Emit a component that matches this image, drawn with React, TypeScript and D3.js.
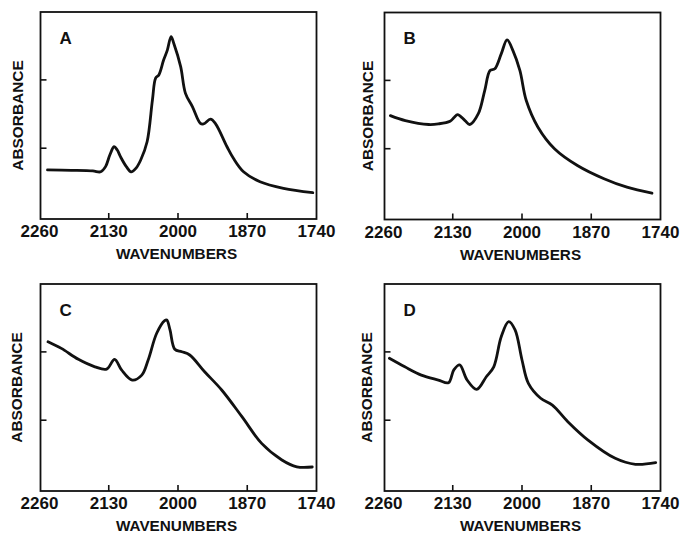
import React from 'react';
import * as d3 from 'd3';

// ---- data ----
const xTickLabels = [2260, 2130, 2000, 1870, 1740];
const xInnerTicks = [2130, 2000, 1870];
const yTickValues = [0.342, 0.672];
const panelLetters = ['A', 'B', 'C', 'D'];

const aWavenumber = [2245, 2200, 2160, 2145, 2136, 2128, 2120, 2114, 2108, 2097, 2088, 2079, 2070, 2058, 2048, 2042, 2036, 2027, 2020, 2013, 2008, 1995, 1986, 1973, 1958, 1952, 1939, 1930, 1908, 1896, 1877, 1846, 1802, 1747];
const aAbsorbance = [0.237, 0.235, 0.232, 0.228, 0.253, 0.309, 0.349, 0.333, 0.301, 0.253, 0.228, 0.245, 0.285, 0.373, 0.575, 0.68, 0.696, 0.768, 0.816, 0.881, 0.849, 0.736, 0.607, 0.543, 0.462, 0.459, 0.482, 0.462, 0.349, 0.293, 0.228, 0.18, 0.148, 0.127];

const bWavenumber = [2247, 2219, 2175, 2157, 2135, 2127, 2121, 2107, 2098, 2082, 2070, 2060, 2051, 2039, 2028, 2017, 2004, 1992, 1970, 1939, 1896, 1846, 1803, 1756];
const bAbsorbance = [0.502, 0.478, 0.459, 0.462, 0.475, 0.494, 0.507, 0.478, 0.459, 0.511, 0.623, 0.72, 0.728, 0.8, 0.868, 0.816, 0.72, 0.575, 0.446, 0.342, 0.261, 0.197, 0.156, 0.127];

const cWavenumber = [2244, 2219, 2187, 2156, 2134, 2119, 2106, 2086, 2068, 2056, 2040, 2025, 2021, 2015, 2006, 1993, 1978, 1950, 1918, 1880, 1843, 1805, 1777, 1748];
const cAbsorbance = [0.721, 0.689, 0.636, 0.6, 0.589, 0.636, 0.585, 0.536, 0.56, 0.633, 0.762, 0.823, 0.826, 0.778, 0.685, 0.673, 0.657, 0.576, 0.488, 0.359, 0.23, 0.15, 0.117, 0.116];

const dWavenumber = [2249, 2220, 2189, 2157, 2138, 2128, 2117, 2103, 2085, 2067, 2053, 2039, 2025, 2013, 2000, 1988, 1965, 1943, 1914, 1876, 1825, 1787, 1749];
const dAbsorbance = [0.641, 0.6, 0.56, 0.536, 0.523, 0.585, 0.609, 0.536, 0.491, 0.552, 0.6, 0.745, 0.818, 0.778, 0.633, 0.52, 0.448, 0.415, 0.335, 0.246, 0.158, 0.129, 0.137];

const seriesWavenumber = [aWavenumber, bWavenumber, cWavenumber, dWavenumber];
const seriesAbsorbance = [aAbsorbance, bAbsorbance, cAbsorbance, dAbsorbance];

// ---- layout ----
const W = 683;
const H = 533;
const PW = 276;
const PH = 207;
const layout = [
  { x0: 40.5, y0: 12, yLabelDx: -18 },
  { x0: 384.5, y0: 12.5, yLabelDx: -12 },
  { x0: 40.5, y0: 284, yLabelDx: -18.5 },
  { x0: 384.5, y0: 284, yLabelDx: -13 },
];
const FONT = "'Liberation Sans', Arial, Helvetica, sans-serif";

function Panel({ idx }: { idx: number }) {
  const { x0, y0, yLabelDx } = layout[idx];
  const x = d3.scaleLinear().domain([2260, 1740]).range([x0 - 1, x0 + PW]);
  const y = d3.scaleLinear().domain([0, 1]).range([y0 + PH, y0]);
  const wn = seriesWavenumber[idx];
  const ab = seriesAbsorbance[idx];
  const pts: [number, number][] = wn.map((w, i) => [w, ab[i]]);
  const line = d3
    .line<[number, number]>()
    .x((d) => x(d[0]))
    .y((d) => y(d[1]))
    .curve(d3.curveCatmullRom.alpha(0.5));
  const bottom = y0 + PH;
  return (
    <g>
      <rect x={x0} y={y0} width={PW} height={PH} fill="none" stroke="#111" strokeWidth={1.8} />
      {xInnerTicks.map((t) => (
        <line key={t} x1={x(t)} x2={x(t)} y1={bottom} y2={bottom - 6} stroke="#111" strokeWidth={1.6} />
      ))}
      {yTickValues.map((t) => (
        <line key={t} x1={x0} x2={x0 + 6} y1={y(t)} y2={y(t)} stroke="#111" strokeWidth={1.6} />
      ))}
      {xTickLabels.map((t) => (
        <text
          key={t}
          x={x(t)}
          y={bottom + 18}
          textAnchor="middle"
          fontFamily={FONT}
          fontSize={17}
          fontWeight="bold"
          fill="#111"
        >
          {t}
        </text>
      ))}
      <text
        x={x0 + PW / 2 - 2}
        y={bottom + 40}
        textAnchor="middle"
        fontFamily={FONT}
        fontSize={15.3}
        fontWeight="bold"
        fill="#111"
      >
        WAVENUMBERS
      </text>
      <text
        transform={`translate(${x0 + yLabelDx},${y0 + PH / 2}) rotate(-90)`}
        textAnchor="middle"
        fontFamily={FONT}
        fontSize={15.4}
        fontWeight="bold"
        fill="#111"
      >
        ABSORBANCE
      </text>
      <text x={x0 + 19} y={y0 + 31.5} fontFamily={FONT} fontSize={17} fontWeight="bold" fill="#111">
        {panelLetters[idx]}
      </text>
      <path d={line(pts) || ''} fill="none" stroke="#111" strokeWidth={2.8} strokeLinejoin="round" strokeLinecap="round" />
    </g>
  );
}

export default function App() {
  return (
    <svg
      width={W}
      height={H}
      viewBox={`0 0 ${W} ${H}`}
      style={{ position: 'absolute', left: 0, top: 0, background: '#fff' }}
    >
      <rect x={0} y={0} width={W} height={H} fill="#fff" />
      {panelLetters.map((_, i) => (
        <Panel key={i} idx={i} />
      ))}
    </svg>
  );
}
